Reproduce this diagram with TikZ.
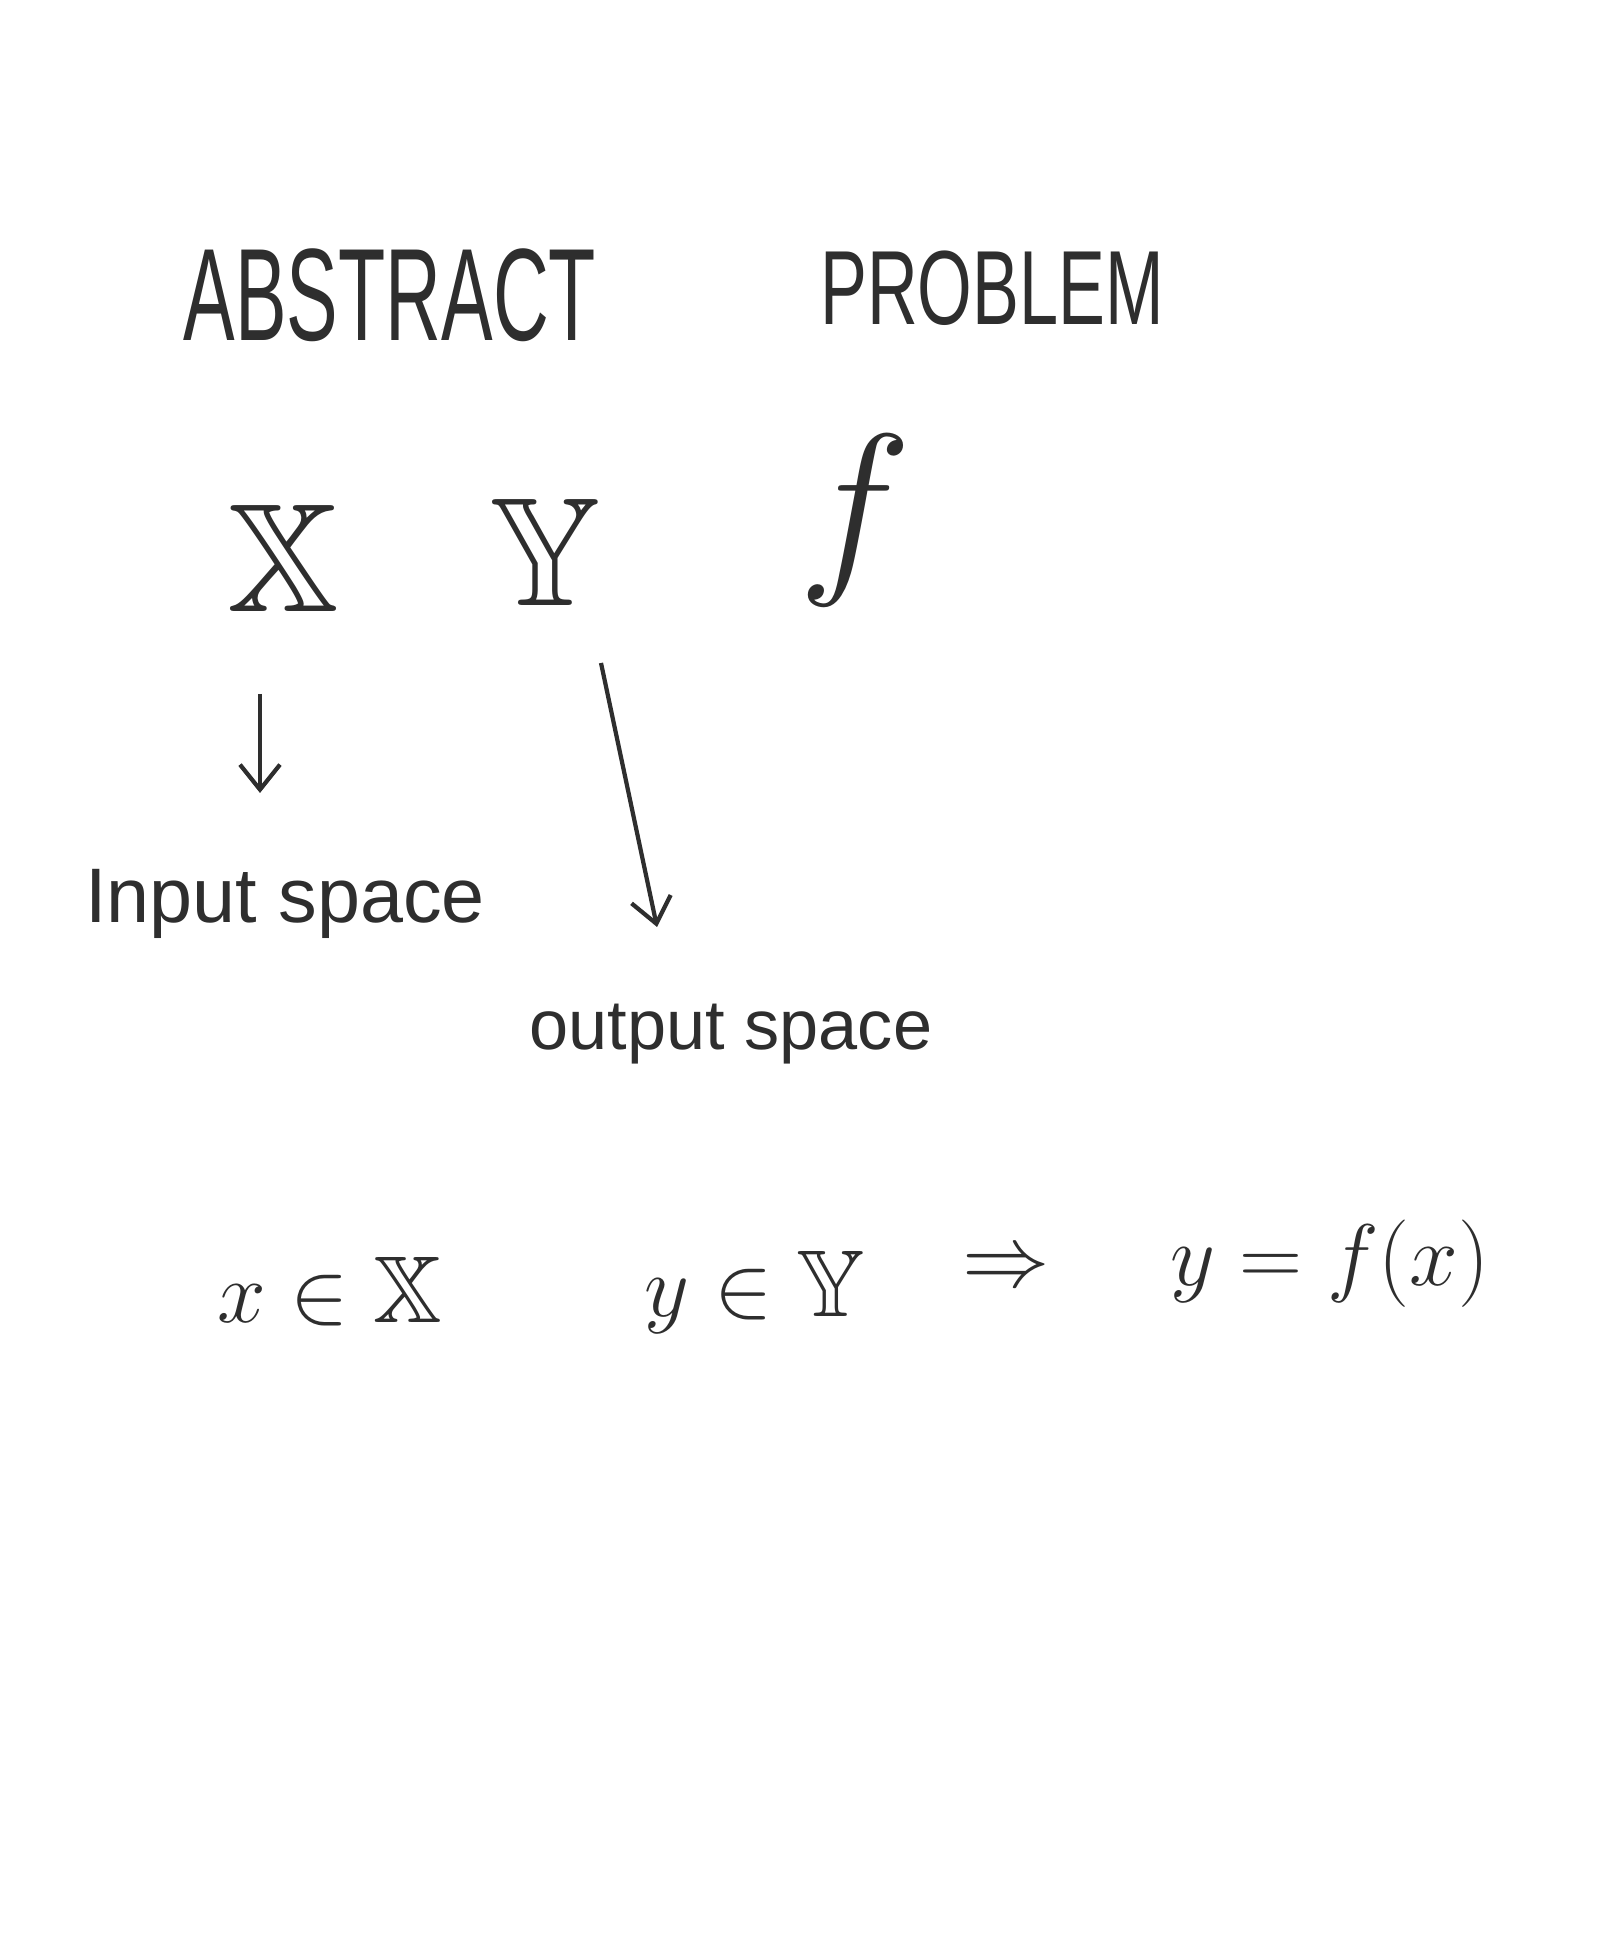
\documentclass[tikz,border=0pt]{standalone}
\usepackage{fontspec}
\usepackage{amssymb}
\usepackage{graphicx}
\setmainfont{Liberation Sans}
\usetikzlibrary{arrows.meta}
\definecolor{ink}{HTML}{2E2E2E}
\tikzset{
  lbl/.style={text=ink, inner sep=0pt, anchor=center},
  conn/.style={draw=ink, line width=1.2pt, -{Straight Barb[length=2.5mm,width=4mm]}}
}
\begin{document}
\begin{tikzpicture}
\useasboundingbox[fill=white] (0,0) rectangle (16.2,19.44);
% titles
\node[lbl, font=\fontsize{22}{26}\selectfont] (abstract) at (3.90,16.49) {\scalebox{1}[1.7]{ABSTRACT}};
\node[lbl, font=\fontsize{20}{24}\selectfont] (problem) at (9.92,16.56) {\scalebox{1}[1.5]{PROBLEM}};
% symbols
\node[lbl, font=\fontsize{44}{50}\selectfont] (X) at (2.83,13.86) {$\mathbb{X}$};
\node[lbl, font=\fontsize{44}{50}\selectfont] (Y) at (5.45,13.92) {$\mathbb{Y}$};
\node[lbl, font=\fontsize{44}{50}\selectfont] (f) at (8.55,14.24) {\scalebox{2.2}{$f$}};
% labels
\node[lbl, font=\fontsize{22}{26}\selectfont] (input) at (2.85,10.40) {Input space};
\node[lbl, font=\fontsize{20}{24}\selectfont] (output) at (7.31,9.10) {output space};
% arrows
\coordinate (a1s) at (2.60,12.50);
\coordinate (a1e) at (2.60,11.51);
\coordinate (a2s) at (6.01,12.81);
\coordinate (a2e) at (6.57,10.17);
\draw[conn] (a1s) -- (a1e);
\draw[conn] (a2s) -- (a2e);
% bottom row
\node[lbl, font=\fontsize{27}{32}\selectfont] (xin) at (3.30,6.52) {$x\in\mathbb{X}$};
\node[lbl, font=\fontsize{27}{32}\selectfont] (yin) at (7.55,6.52) {$y\in\mathbb{Y}$};
\node[lbl, font=\fontsize{28}{34}\selectfont] (impl) at (10.06,6.74) {$\Rightarrow$};
\node[lbl, font=\fontsize{38}{44}\selectfont] (eq) at (13.30,6.80) {$y=f(x)$};
\end{tikzpicture}
\end{document}
